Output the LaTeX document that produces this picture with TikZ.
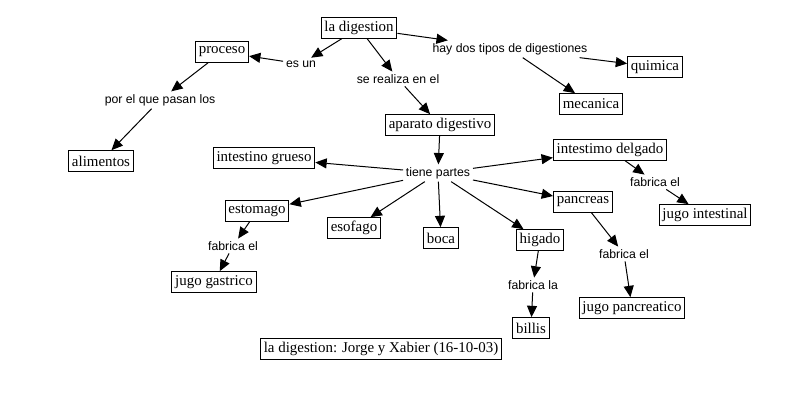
\documentclass[tikz,border=0pt]{standalone}
\usepackage{fontspec}
\setmainfont{Liberation Serif}
\newfontfamily\linkfont{Liberation Sans}
\usetikzlibrary{arrows.meta}

\begin{document}
\begin{tikzpicture}[x=0.75pt, y=-0.75pt,
  concept/.style={rectangle, draw, line width=0.75pt, inner xsep=2.5pt, inner ysep=2pt,
    minimum height=15.5pt, font=\fontsize{11.2}{12}\selectfont},
  link/.style={inner sep=2pt, font=\linkfont\fontsize{9.2}{10}\selectfont},
  arr/.style={-{Triangle[length=8.5pt,width=7.5pt]}, line width=0.75pt}]
\useasboundingbox (0,0) rectangle (791,400);

\node[concept] (dig) at (359,28) {la digestion};
\node[concept] (proc) at (222,52) {proceso};
\node[link] (esun) at (301,64) {es un};
\node[link] (real) at (398,79) {se realiza en el};
\node[link] (tipos) at (510,49) {hay dos tipos de digestiones};
\node[concept] (quim) at (655,67) {quimica};
\node[concept] (mec) at (591,104) {mecanica};
\node[link] (pasan) at (160,100) {por el que pasan los};
\node[concept] (alim) at (101,161) {alimentos};
\node[concept] (apar) at (440,125) {aparato digestivo};
\node[link] (partes) at (438,173) {tiene partes};

\node[concept] (grueso) at (264,158) {intestino grueso};
\node[concept] (delg) at (610,150) {intestimo delgado};
\node[link] (fabint) at (655,182) {fabrica el};
\node[concept] (jint) at (705,215) {jugo intestinal};
\node[concept] (estom) at (257,211) {estomago};
\node[link] (fabgas) at (233,246) {fabrica el};
\node[concept] (jgas) at (214,282) {jugo gastrico};
\node[concept] (esof) at (354,228) {esofago};
\node[concept] (boca) at (441,238) {boca};
\node[concept] (hig) at (540,240) {higado};
\node[link] (fabla) at (533,285) {fabrica la};
\node[concept] (bil) at (531,328) {billis};
\node[concept] (panc) at (583,202) {pancreas};
\node[link] (fabpan) at (624,254) {fabrica el};
\node[concept] (jpan) at (632,308) {jugo pancreatico};

\node[concept] (autor) at (381,349) {la digestion: Jorge y Xabier (16-10-03)};

\draw[arr] (dig) edge (esun);
\draw[arr] (esun) edge (proc);
\draw[arr] (proc) edge (pasan);
\draw[arr] (pasan) edge (alim);
\draw[arr] (dig) edge (real);
\draw[arr] (real) edge (apar);
\draw[arr] (dig) edge (tipos);
\draw[arr] (tipos) edge (quim);
\draw[arr] (tipos) edge (mec);
\draw[arr] (apar) edge (partes);

\draw[arr] (partes) edge (grueso);
\draw[arr] (partes) edge (delg);
\draw[arr] (partes) edge (estom);
\draw[arr] (partes) edge (esof);
\draw[arr] (partes) edge (boca);
\draw[arr] (partes) edge (hig);
\draw[arr] (partes) edge (panc);

\draw[arr] (delg) edge (fabint);
\draw[arr] (fabint) edge (jint);
\draw[arr] (estom) edge (fabgas);
\draw[arr] (fabgas) edge (jgas);
\draw[arr] (hig) edge (fabla);
\draw[arr] (fabla) edge (bil);
\draw[arr] (panc) edge (fabpan);
\draw[arr] (fabpan) edge (jpan);

\end{tikzpicture}
\end{document}
